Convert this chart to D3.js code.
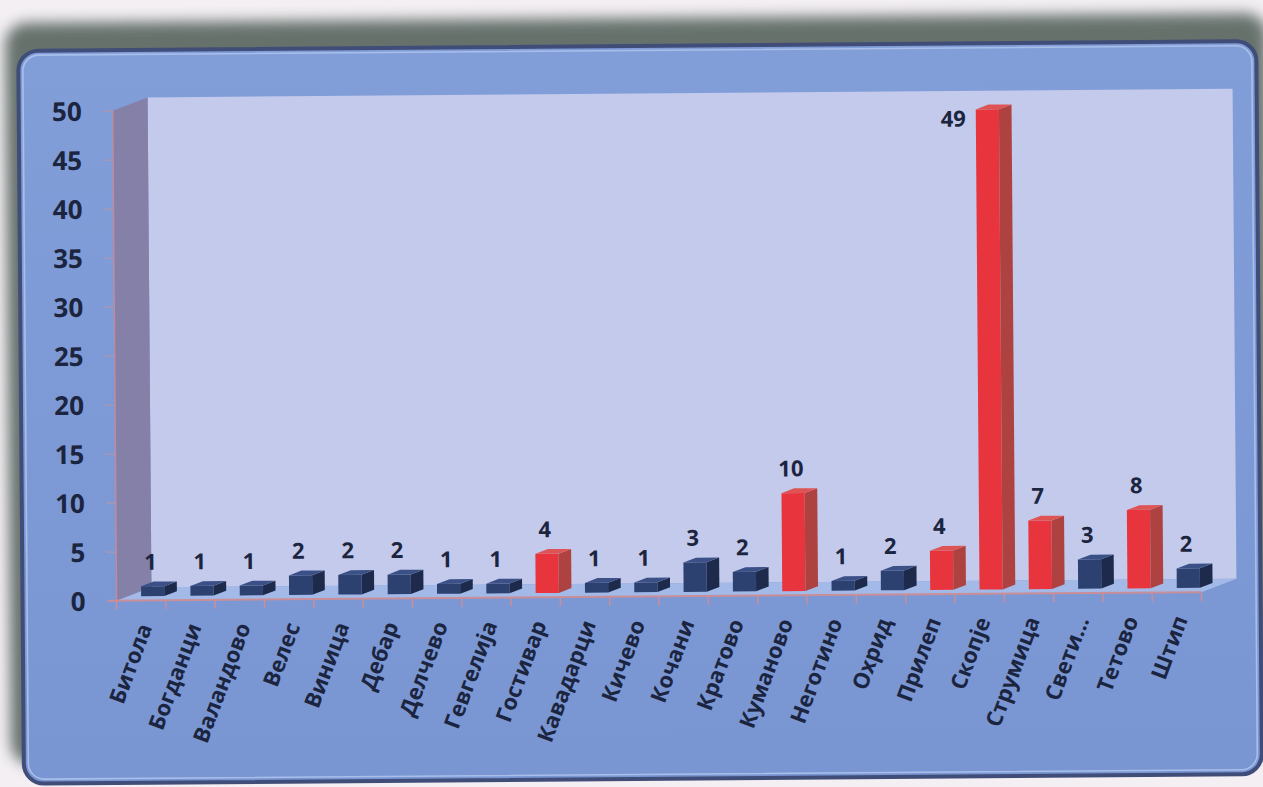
<!DOCTYPE html>
<html>
<head>
<meta charset="utf-8">
<script src="https://cdn.jsdelivr.net/npm/d3@7"></script>
<style>
  html, body { margin: 0; padding: 0; background: #f2eef2; }
  svg { display: block; }
  text { font-family: "Open Sans", "DejaVu Sans", sans-serif; font-weight: 700; fill: #1c2540; }
</style>
</head>
<body>
<svg id="chart" width="1263" height="787"></svg>
<script>
// ---- data ----
const categories = ["Битола","Богданци","Валандово","Велес","Виница","Дебар","Делчево","Гевгелија","Гостивар","Кавадарци","Кичево","Кочани","Кратово","Куманово","Неготино","Охрид","Прилеп","Скопје","Струмица","Свети...","Тетово","Штип"];
const values     = [1,1,1,2,2,2,1,1,4,1,1,3,2,10,1,2,4,49,7,3,8,2];
const highlight  = [0,0,0,0,0,0,0,0,1,0,0,0,0,1,0,0,1,1,1,0,1,0];
const yTicks     = [0,5,10,15,20,25,30,35,40,45,50];

// ---- layout ----
const W = 1263, H = 787;
const svg = d3.select("#chart");
const defs = svg.append("defs");

defs.append("filter").attr("id","shadowBlur").attr("x","-10%").attr("y","-10%").attr("width","120%").attr("height","120%")
  .append("feGaussianBlur").attr("stdDeviation", 7);

const pg = defs.append("linearGradient").attr("id","panelGrad").attr("x1",0).attr("y1",0).attr("x2",0).attr("y2",1);
pg.append("stop").attr("offset","0%").attr("stop-color","#829ed9");
pg.append("stop").attr("offset","100%").attr("stop-color","#7996d3");

svg.append("rect").attr("width",W).attr("height",H).attr("fill","#f3eff3");

const g = svg.append("g").attr("transform","rotate(-0.45 631 400)");

// shadow behind panel
g.append("rect")
  .attr("x", 8).attr("y", 18).attr("width", 1262).attr("height", 742)
  .attr("rx", 22).attr("fill", "#52605a").attr("opacity", 0.88)
  .attr("filter","url(#shadowBlur)");

// panel
g.append("rect")
  .attr("x", 21).attr("y", 46).attr("width", 1238).attr("height", 733)
  .attr("rx", 20).attr("fill", "url(#panelGrad)")
  .attr("stroke", "#3f4d78").attr("stroke-width", 4);
g.append("rect")
  .attr("x", 25.5).attr("y", 50.5).attr("width", 1229).attr("height", 724)
  .attr("rx", 16).attr("fill", "none")
  .attr("stroke", "#a9bfea").attr("stroke-width", 1.6);

// ---- scales ----
const x = d3.scaleBand().domain(categories).range([115, 1200]).padding(0);
const y = d3.scaleLinear().domain([0, 50]).range([596.6, 106.6]);
const DX = 35, DY = 13;             // full depth offset
const d0 = 0.33, d1 = 0.69;         // bar depth range
const bw = x.bandwidth() * 0.47;

// back wall
const wallTop = y(50) - DY;
g.append("rect")
  .attr("x", x.range()[0] + DX).attr("y", wallTop)
  .attr("width", x.range()[1] - x.range()[0]).attr("height", y(0) - DY - wallTop)
  .attr("fill", "#c4caeb");

// left side wall
const x0 = x.range()[0];
g.append("polygon")
  .attr("points", [[x0, y(0)], [x0, y(50)], [x0 + DX, y(50) - DY], [x0 + DX, y(0) - DY]].map(p => p.join(",")).join(" "))
  .attr("fill", "#8580a8");
g.append("line")
  .attr("x1", x0).attr("x2", x0).attr("y1", y(0)).attr("y2", y(50))
  .attr("stroke", "#c08a9c").attr("stroke-width", 1.5);

// floor
const x1 = x.range()[1];
g.append("polygon")
  .attr("points", [[x0, y(0)], [x1, y(0)], [x1 + DX, y(0) - DY], [x0 + DX, y(0) - DY]].map(p => p.join(",")).join(" "))
  .attr("fill", "#a3b9e8");

// y axis
const yAxis = d3.axisLeft(y).tickValues(yTicks).tickSize(10).tickPadding(21);
const ya = g.append("g").attr("transform", `translate(${x0},0)`).call(yAxis);
ya.select(".domain").remove();
ya.selectAll(".tick line").attr("stroke", "#a897b4").attr("stroke-width", 1.3);
ya.selectAll(".tick text")
  .attr("font-size", 26).attr("font-family", "'Open Sans', sans-serif").attr("font-weight", 700)
  .attr("fill", "#1c2540").attr("dy", "0.36em");

// x axis line and boundary ticks
g.append("line")
  .attr("x1", x0 - 8).attr("x2", x1).attr("y1", y(0)).attr("y2", y(0))
  .attr("stroke", "#c98e98").attr("stroke-width", 2);
const bounds = categories.map(c => x(c)).concat([x1]);
g.selectAll(".xtick").data(bounds).enter().append("line")
  .attr("class", "xtick")
  .attr("x1", d => d).attr("x2", d => d).attr("y1", y(0)).attr("y2", y(0) + 9)
  .attr("stroke", "#c98e98").attr("stroke-width", 1.5);

// bars
const blue = { front: "#2d4170", side: "#1d2a4c", top: "#3a5086" };
const red  = { front: "#e8343d", side: "#ae4240", top: "#de5454" };
const sdx = (d1 - d0) * DX, sdy = (d1 - d0) * DY;

const bars = g.selectAll(".bar").data(categories.map((c, i) => ({ c, v: values[i], hl: highlight[i] })))
  .enter().append("g").attr("class", "bar");

bars.each(function (d) {
  const sel = d3.select(this);
  const col = d.hl ? red : blue;
  const xl = x(d.c) + x.bandwidth() / 2 - bw / 2 + d0 * DX;
  const xr = xl + bw;
  const topF = y(d.v) - d0 * DY;
  const baseF = y(0) - d0 * DY;
  sel.append("rect").attr("x", xl).attr("y", topF).attr("width", bw).attr("height", baseF - topF).attr("fill", col.front);
  sel.append("polygon")
    .attr("points", [[xr, topF], [xr + sdx, topF - sdy], [xr + sdx, baseF - sdy], [xr, baseF]].map(p => p.join(",")).join(" "))
    .attr("fill", col.side);
  sel.append("polygon")
    .attr("points", [[xl, topF], [xr, topF], [xr + sdx, topF - sdy], [xl + sdx, topF - sdy]].map(p => p.join(",")).join(" "))
    .attr("fill", col.top);

  // data label
  const fs = 22;
  let lx = (xl + xr) / 2 - 2, ly = topF - sdy - 12, anchor = "middle";
  if (ly - fs < wallTop) { lx = xl - 10; ly = topF + 17; anchor = "end"; }
  sel.append("text").attr("x", lx).attr("y", ly).attr("text-anchor", anchor)
    .attr("font-size", fs).text(d.v);
});

// category labels
g.selectAll(".clabel").data(categories).enter().append("text")
  .attr("class", "clabel")
  .attr("text-anchor", "end")
  .attr("font-size", 22)
  .attr("transform", c => `translate(${x(c) + x.bandwidth() / 2 + 11},${y(0) + 27}) rotate(-69)`)
  .text(c => c);
</script>
</body>
</html>
